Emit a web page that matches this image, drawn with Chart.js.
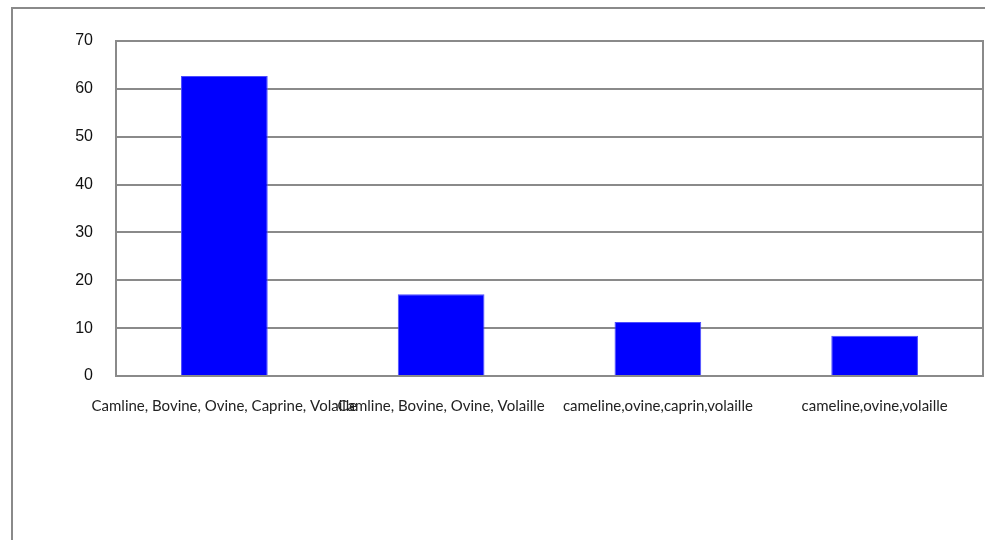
<!DOCTYPE html>
<html>
<head>
<meta charset="utf-8">
<script src="https://cdn.jsdelivr.net/npm/chart.js@4"></script>
<style>
  html, body { margin: 0; padding: 0; background: #fff; }
  #wrap { width: 985px; height: 540px; }
</style>
</head>
<body>
<div id="wrap"><canvas id="elevageChart" width="985" height="540"></canvas></div>
<script>
const categories = [
  "Camline, Bovine, Ovine, Caprine, Volaille",
  "Camline, Bovine, Ovine, Volaille",
  "cameline,ovine,caprin,volaille",
  "cameline,ovine,volaille"
];
const percentages = [62.7, 17.1, 11.3, 8.4];
const yTicks = [0, 10, 20, 30, 40, 50, 60, 70];

// outer frame of the chart + the plot area box
const framePlugin = {
  id: "frame",
  beforeDraw(chart) {
    const ctx = chart.ctx;
    ctx.save();
    ctx.strokeStyle = "#8a8a8a";
    ctx.lineWidth = 2;
    ctx.beginPath();
    ctx.moveTo(12, 540);
    ctx.lineTo(12, 8);
    ctx.lineTo(985, 8);
    ctx.stroke();
    ctx.restore();
  },
  afterDatasetsDraw(chart) {
    const a = chart.chartArea;
    const ctx = chart.ctx;
    ctx.save();
    ctx.strokeStyle = "#8a8a8a";
    ctx.lineWidth = 2;
    ctx.strokeRect(a.left, a.top, a.right - a.left, a.bottom - a.top);
    ctx.restore();
  }
};

const elevageChart = new Chart(document.getElementById("elevageChart"), {
  type: "bar",
  data: {
    labels: categories,
    datasets: [
      {
        data: percentages,
        backgroundColor: "#0000ff",
        borderColor: "#4d4dff",
        borderWidth: 1,
        categoryPercentage: 0.8,
        barPercentage: 0.5
      }
    ]
  },
  options: {
    responsive: false,
    animation: false,
    layout: {
      padding: { left: 0, top: 41, right: 2, bottom: 104 }
    },
    plugins: {
      legend: { display: false },
      tooltip: { enabled: false }
    },
    scales: {
      x: {
        grid: { display: false, drawTicks: false },
        border: { display: false },
        ticks: {
          padding: 21,
          maxRotation: 0,
          autoSkip: false,
          color: "#222",
          font: { family: "Lato, 'Open Sans', sans-serif", size: 15 }
        },
        afterFit(scale) {
          scale.height = 60;
        }
      },
      y: {
        min: 0,
        max: 70,
        afterBuildTicks(scale) {
          scale.ticks = yTicks.map((v) => ({ value: v }));
        },
        grid: { color: "#8a8a8a", lineWidth: 2, drawTicks: false },
        border: { display: false },
        ticks: {
          padding: 23,
          color: "#111",
          font: { family: "'Liberation Sans', Arial, sans-serif", size: 16 }
        },
        afterFit(scale) {
          scale.width = 116;
        }
      }
    }
  },
  plugins: [framePlugin]
});
</script>
</body>
</html>
